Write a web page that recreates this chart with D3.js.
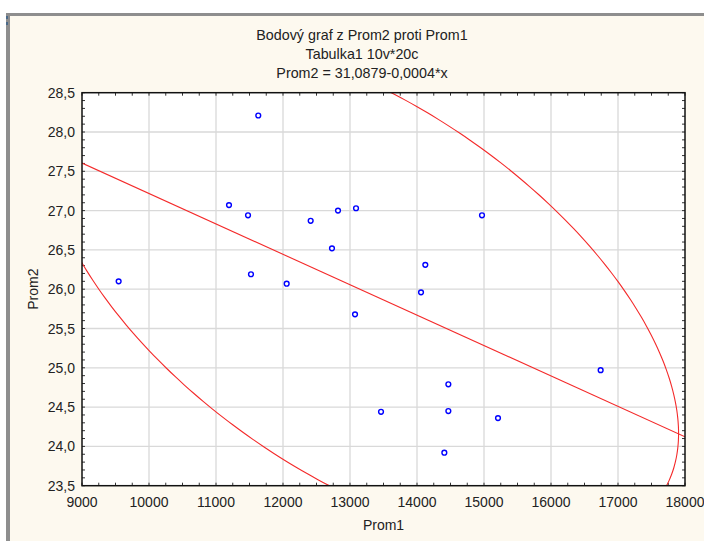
<!DOCTYPE html>
<html>
<head>
<meta charset="utf-8">
<script src="https://cdn.jsdelivr.net/npm/d3@7"></script>
<style>
  body { margin: 0; background: #ffffff; }
  text { font-family: "Liberation Sans", Arial, sans-serif; fill: #222; }
</style>
</head>
<body>
<div id="chart"></div>
<script>
// values
const prom1 = [9547, 11194, 11478, 11522, 11631, 12055, 12413, 12731, 12821, 13090,
               13075, 13463, 14060, 14124, 14408, 14468, 14468, 14970, 15209, 16741];
const prom2 = [26.10, 27.07, 26.94, 26.19, 28.21, 26.07, 26.87, 26.52, 27.00, 27.03,
               25.68, 24.44, 25.96, 26.31, 23.92, 24.79, 24.45, 26.94, 24.36, 24.97];
const xTicks = [9000, 10000, 11000, 12000, 13000, 14000, 15000, 16000, 17000, 18000];
const yTicks = [23.5, 24.0, 24.5, 25.0, 25.5, 26.0, 26.5, 27.0, 27.5, 28.0, 28.5];
const intercept = 31.0879;
const slope = -0.000387;
const titleLines = ["Bodový graf z Prom2 proti Prom1", "Tabulka1 10v*20c", "Prom2 = 31,0879-0,0004*x"];

const width = 704, height = 541;
const pLeft = 82, pRight = 685, pTop = 92.7, pBottom = 485.7;

const svg = d3.select("#chart").append("svg")
  .attr("width", width).attr("height", height);

// window frame + cream background
svg.append("rect").attr("x", 6).attr("y", 13).attr("width", width).attr("height", height)
  .attr("fill", "#8e8e8e");
svg.append("rect").attr("x", 10).attr("y", 16).attr("width", width).attr("height", height)
  .attr("fill", "#fdf9ef");
svg.append("rect").attr("x", 6).attr("y", 16).attr("width", 2).attr("height", 3).attr("fill", "#4a6a8a");
svg.append("rect").attr("x", 6).attr("y", 22).attr("width", 2).attr("height", 3).attr("fill", "#4a6a8a");

const x = d3.scaleLinear().domain([9000, 18000]).range([pLeft, pRight]);
const y = d3.scaleLinear().domain([23.5, 28.5]).range([pBottom, pTop]);
const fmt = v => d3.format(".1f")(v).replace(".", ",");

// plot background
svg.append("rect").attr("x", pLeft).attr("y", pTop)
  .attr("width", pRight - pLeft).attr("height", pBottom - pTop).attr("fill", "#fff");

// grid
svg.append("g").selectAll("line").data(xTicks.slice(1, -1)).enter().append("line")
  .attr("x1", d => x(d)).attr("x2", d => x(d)).attr("y1", pTop).attr("y2", pBottom)
  .attr("stroke", "#d9d9d9").attr("stroke-width", 1.3);
svg.append("g").selectAll("line").data(yTicks.slice(1, -1)).enter().append("line")
  .attr("y1", d => y(d)).attr("y2", d => y(d)).attr("x1", pLeft).attr("x2", pRight)
  .attr("stroke", "#d9d9d9").attr("stroke-width", 1.3);

// minor ticks, inward on all four sides
const xMinor = d3.range(9000, 18001, 250);
const yMinor = d3.range(235, 286, 1).map(v => v / 10);
const tk = svg.append("g").attr("stroke", "#333").attr("stroke-width", 1);
xMinor.forEach(v => {
  tk.append("line").attr("x1", x(v)).attr("x2", x(v)).attr("y1", pTop).attr("y2", pTop + 3);
  tk.append("line").attr("x1", x(v)).attr("x2", x(v)).attr("y1", pBottom).attr("y2", pBottom - 3);
});
yMinor.forEach(v => {
  tk.append("line").attr("y1", y(v)).attr("y2", y(v)).attr("x1", pLeft).attr("x2", pLeft + 3);
  tk.append("line").attr("y1", y(v)).attr("y2", y(v)).attr("x1", pRight).attr("x2", pRight - 3);
});

// clip for fitted curves
svg.append("clipPath").attr("id", "clip").append("rect")
  .attr("x", pLeft).attr("y", pTop).attr("width", pRight - pLeft).attr("height", pBottom - pTop);
const curves = svg.append("g").attr("clip-path", "url(#clip)");

// regression line
curves.append("line")
  .attr("x1", x(9000)).attr("y1", y(intercept + slope * 9000))
  .attr("x2", x(18000)).attr("y2", y(intercept + slope * 18000))
  .attr("stroke", "#f42a2a").attr("stroke-width", 1.1);

// 95% prediction ellipse from the data
const n = prom1.length;
const mx = d3.mean(prom1), my = d3.mean(prom2);
let sxx = 0, syy = 0, sxy = 0;
for (let i = 0; i < n; i++) {
  sxx += (prom1[i] - mx) ** 2;
  syy += (prom2[i] - my) ** 2;
  sxy += (prom1[i] - mx) * (prom2[i] - my);
}
sxx /= n - 1; syy /= n - 1; sxy /= n - 1;
const F = 3.5546; // F(0.95; 2, 18)
const k = Math.sqrt(2 * (n - 1) * (n + 1) / (n * (n - 2)) * F);
const a = Math.sqrt(sxx), b = sxy / a, c = Math.sqrt(syy - b * b);
const ell = d3.range(0, 360, 2).map(t => {
  const r = t * Math.PI / 180;
  return [mx + k * a * Math.cos(r), my + k * (b * Math.cos(r) + c * Math.sin(r))];
});
curves.append("path")
  .attr("d", d3.line().x(d => x(d[0])).y(d => y(d[1])).curve(d3.curveCardinalClosed)(ell))
  .attr("fill", "none").attr("stroke", "#f42a2a").attr("stroke-width", 1.1);

// frame
svg.append("rect").attr("x", pLeft).attr("y", pTop)
  .attr("width", pRight - pLeft).attr("height", pBottom - pTop)
  .attr("fill", "none").attr("stroke", "#111").attr("stroke-width", 1.5);

// points
svg.append("g").selectAll("circle").data(prom1).enter().append("circle")
  .attr("cx", d => x(d)).attr("cy", (d, i) => y(prom2[i])).attr("r", 2.4)
  .attr("fill", "#fff").attr("stroke", "#0000ff").attr("stroke-width", 1.4);

// tick labels
svg.append("g").selectAll("text").data(yTicks).enter().append("text")
  .attr("x", 75).attr("y", d => y(d) + 5)
  .attr("text-anchor", "end").attr("font-size", 14)
  .text(fmt);
svg.append("g").selectAll("text").data(xTicks).enter().append("text")
  .attr("x", d => x(d)).attr("y", 507)
  .attr("text-anchor", "middle").attr("font-size", 14)
  .text(d => d);

// axis titles
svg.append("text").attr("x", (pLeft + pRight) / 2).attr("y", 530)
  .attr("text-anchor", "middle").attr("font-size", 14).text("Prom1");
svg.append("text").attr("transform", `translate(38, ${(pTop + pBottom) / 2}) rotate(-90)`)
  .attr("text-anchor", "middle").attr("font-size", 14).text("Prom2");

// title
svg.append("g").selectAll("text").data(titleLines).enter().append("text")
  .attr("x", 362).attr("y", (d, i) => 40 + i * 19)
  .attr("text-anchor", "middle").attr("font-size", 14.3)
  .text(d => d);
</script>
</body>
</html>
